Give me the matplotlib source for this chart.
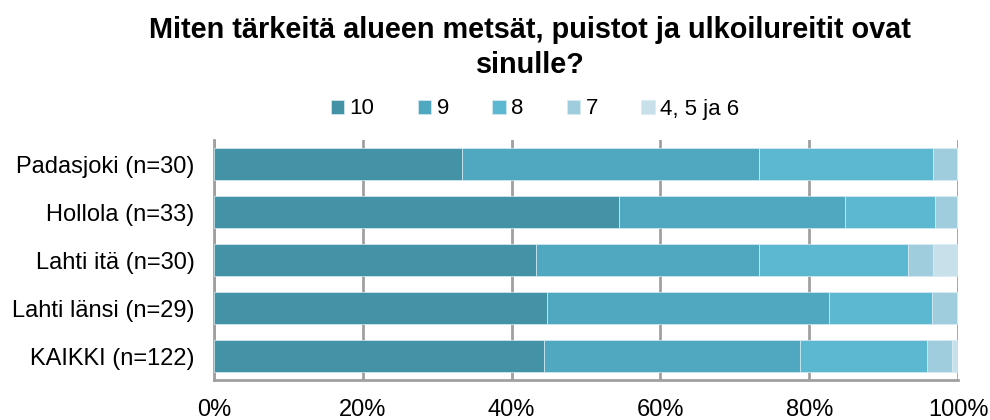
import matplotlib
matplotlib.use("Agg")
import matplotlib.pyplot as plt
import numpy as np

plt.rcParams['font.family'] = ['Liberation Sans', 'DejaVu Sans']

categories = ["Padasjoki (n=30)", "Hollola (n=33)", "Lahti itä (n=30)", "Lahti länsi (n=29)", "KAIKKI (n=122)"]
series_names = ["10", "9", "8", "7", "4, 5 ja 6"]
s10 = [33.3, 54.5, 43.3, 44.8, 44.3]
s9 = [40.0, 30.3, 30.0, 37.9, 34.4]
s8 = [23.3, 12.1, 20.0, 13.8, 17.2]
s7 = [3.3, 3.0, 3.3, 3.4, 3.3]
s456 = [0.0, 0.0, 3.3, 0.0, 0.8]
colors = ["#4392A6", "#4FA8BF", "#5BB8D0", "#A0CDDD", "#C8E0EA"]
xticks = [0, 20, 40, 60, 80, 100]
xticklabels = ["0%", "20%", "40%", "60%", "80%", "100%"]
title = "Miten tärkeitä alueen metsät, puistot ja ulkoilureitit ovat\nsinulle?"

fig = plt.figure(figsize=(9.9, 4.2), dpi=100)
ax = fig.add_axes([214/990, 1-380/420, (958-214)/990, 240/420])

y = np.arange(len(categories))
left = np.zeros(len(categories))
for name, vals, c in zip(series_names, [s10, s9, s8, s7, s456], colors):
    vals = np.array(vals)
    ax.barh(y, vals, left=left, height=0.667, color=c, label=name,
            edgecolor="#D8ECF2", linewidth=0.5, zorder=3)
    left += vals

ax.set_xlim(0, 100)
ax.set_ylim(len(categories)-0.5, -0.5)
ax.set_yticks(y)
ax.set_yticklabels(categories, fontsize=17)
ax.set_xticks(xticks)
ax.set_xticklabels(xticklabels, fontsize=17)
ax.tick_params(axis='x', length=0, pad=14)
ax.tick_params(axis='y', length=0, pad=14)
ax.xaxis.grid(True, color="#A0A0A0", linewidth=2, zorder=0)
ax.set_axisbelow(True)
for s in ["top", "right"]:
    ax.spines[s].set_visible(False)
for s in ["left", "bottom"]:
    ax.spines[s].set_color("#A0A0A0")
    ax.spines[s].set_linewidth(2)

fig.text(530/990, 1-16/420, title, ha="center", va="top", fontsize=20.8,
         fontweight="bold", linespacing=1.3)

fig.legend(loc="center", bbox_to_anchor=(535/990, 1-109/420), ncol=5, frameon=False,
           fontsize=16, handlelength=0.6, handleheight=0.6, handletextpad=0.25,
           columnspacing=1.95)

fig.savefig("out.png", dpi=100)
